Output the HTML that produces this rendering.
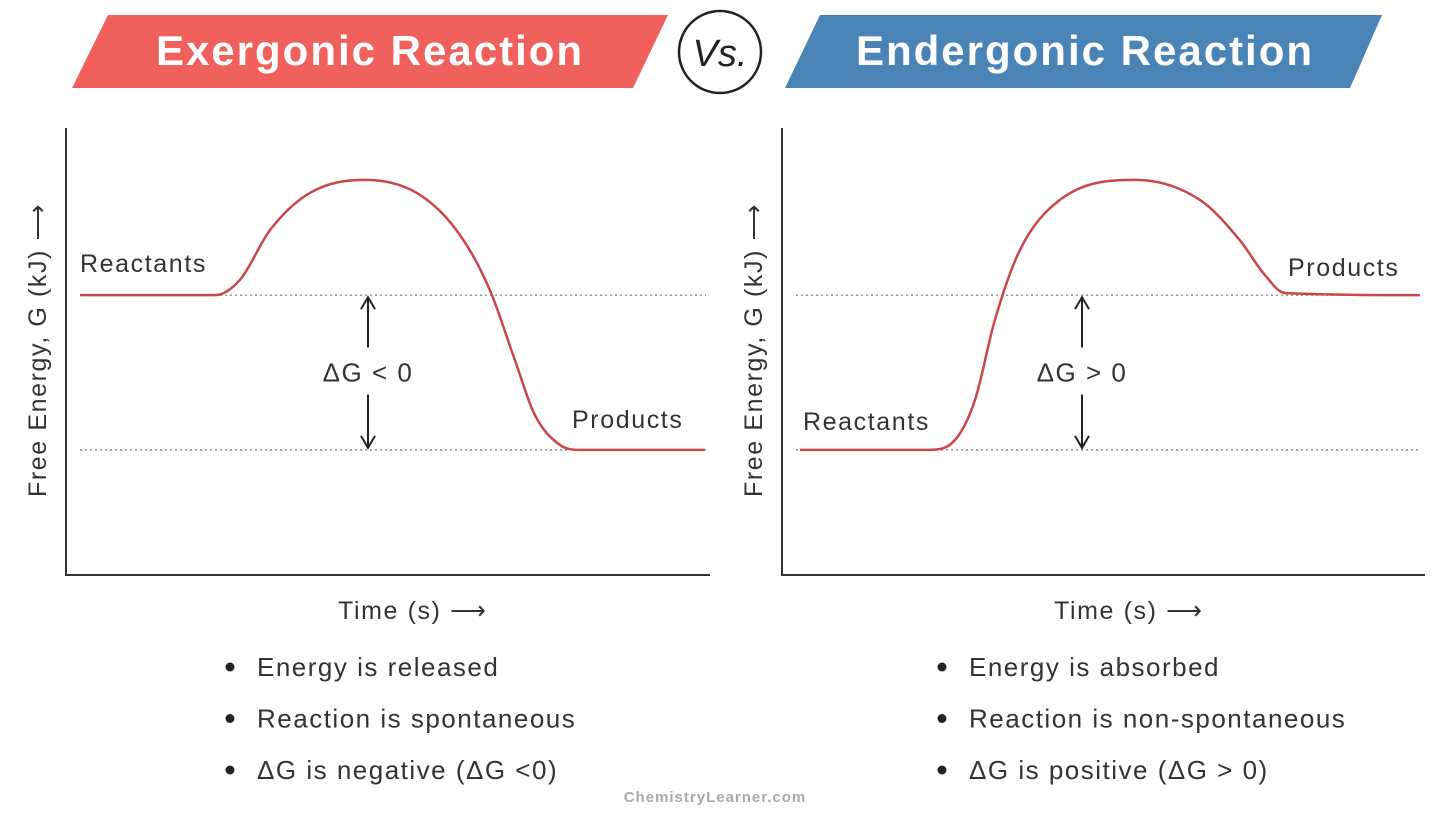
<!DOCTYPE html>
<html><head><meta charset="utf-8">
<style>
html,body{margin:0;padding:0;background:#fff;}
svg{display:block;font-family:"Liberation Sans",sans-serif;}
</style></head>
<body>
<svg id="chart" width="1440" height="823" viewBox="0 0 1440 823">
  <polygon points="108,15 668,15 633,88 72,88" fill="#f0605c"/>
  <text x="370" y="65" text-anchor="middle" font-size="42" font-weight="bold" letter-spacing="2" fill="#fff">Exergonic Reaction</text>
  <circle cx="720" cy="52" r="41" fill="#fff" stroke="#222" stroke-width="2.5"/>
  <text x="720" y="66" text-anchor="middle" font-size="38" font-style="italic" fill="#222">Vs.</text>
  <polygon points="820,15 1382,15 1350,88 785,88" fill="#4a83b6"/>
  <text x="1085" y="65" text-anchor="middle" font-size="42" font-weight="bold" letter-spacing="2" fill="#fff">Endergonic Reaction</text>
  <g id="left"></g>
  <g id="right"></g>
  <text x="715" y="802" text-anchor="middle" font-size="15" font-weight="bold" fill="#aaa" letter-spacing="1">ChemistryLearner.com</text>
</svg>
<script>
// Exergonic data (time %, energy %)
const exTime = [2.2, 23.1, 27, 31.7, 37.9, 46.4, 55, 61.2, 65.8, 69.7, 72.8, 76.7, 79.8, 99.2];
const exEnergy = [62.6, 62.6, 66, 77.2, 85.5, 88.4, 85, 76, 63.8, 48.1, 35.8, 29.1, 28, 28];
// Endergonic data
const enTime = [2.8, 22.9, 26.9, 30, 33.1, 37, 43.2, 54.9, 65, 71.2, 75.1, 78.2, 99.2];
const enEnergy = [28, 28, 30.2, 39.1, 57, 72.7, 83.9, 88.4, 83.9, 74.9, 67.1, 63.1, 62.6];
const exLevels = [62.6, 28];
const enLevels = [62.6, 28];
const exBullets = ["Energy is released", "Reaction is spontaneous", "ΔG is negative (ΔG <0)"];
const enBullets = ["Energy is absorbed", "Reaction is non-spontaneous", "ΔG is positive (ΔG > 0)"];

const NS = "http://www.w3.org/2000/svg";
function mk(parent, tag, attrs, text) {
  const e = document.createElementNS(NS, tag);
  for (const k in attrs) e.setAttribute(k, attrs[k]);
  if (text !== undefined) e.textContent = text;
  parent.appendChild(e);
  return e;
}
// monotone cubic (Fritsch-Carlson)
function smoothPath(pts) {
  const n = pts.length, dx = [], m = [], t = [];
  for (let i = 0; i < n - 1; i++) { dx.push(pts[i+1][0]-pts[i][0]); m.push((pts[i+1][1]-pts[i][1])/dx[i]); }
  t[0] = m[0]; t[n-1] = m[n-2];
  for (let i = 1; i < n - 1; i++) t[i] = (m[i-1]*m[i] <= 0) ? 0 : (m[i-1]+m[i])/2;
  for (let i = 0; i < n - 1; i++) {
    if (m[i] === 0) { t[i] = 0; t[i+1] = 0; continue; }
    const a = t[i]/m[i], b = t[i+1]/m[i], s = a*a + b*b;
    if (s > 9) { const k = 3/Math.sqrt(s); t[i] = k*a*m[i]; t[i+1] = k*b*m[i]; }
  }
  let d = "M" + pts[0][0] + "," + pts[0][1];
  for (let i = 0; i < n - 1; i++) {
    const h = dx[i] / 3;
    d += " C" + (pts[i][0]+h) + "," + (pts[i][1]+t[i]*h) + " " + (pts[i+1][0]-h) + "," + (pts[i+1][1]-t[i+1]*h) + " " + pts[i+1][0] + "," + pts[i+1][1];
  }
  return d;
}
function drawPanel(g, x0, x1, times, energies, levels, cfg) {
  const yTop = 128, yBot = 575;
  const sx = t => x0 + (x1 - x0) * t / 100;
  const sy = v => yBot - (yBot - yTop) * v / 100;
  const ax = mk(g, "path", {d: "M" + x0 + "," + yTop + " L" + x0 + "," + yBot + " L" + x1 + "," + yBot, fill: "none", stroke: "#333", "stroke-width": 2});
  
  
  levels.forEach((lv, i) => {
    const l = mk(g, "line", {x1: x0 + 14, x2: x1 - 4, y1: sy(lv), y2: sy(lv), stroke: "#777", "stroke-width": 1.2, "stroke-dasharray": "2,3"});
    
    
  });
  const pts = times.map((t, i) => [sx(t), sy(energies[i])]);
  const c = mk(g, "path", {d: smoothPath(pts), fill: "none", stroke: "#c9474b", "stroke-width": 2.5});
  
  
  const ya = sy(levels[0]), yb = sy(levels[1]), xm = cfg.arrowX, ym = (ya + yb) / 2;
  const ar = mk(g, "path", {d: "M" + xm + "," + (ya + 2) + " L" + xm + "," + (ym - 25) + " M" + (xm - 7) + "," + (ya + 14) + " L" + xm + "," + (ya + 2) + " L" + (xm + 7) + "," + (ya + 14) +
    " M" + xm + "," + (yb - 2) + " L" + xm + "," + (ym + 22) + " M" + (xm - 7) + "," + (yb - 14) + " L" + xm + "," + (yb - 2) + " L" + (xm + 7) + "," + (yb - 14), fill: "none", stroke: "#222", "stroke-width": 2});
  
  
  const dt = mk(g, "text", {x: xm, y: ym + 9, "text-anchor": "middle", "font-size": 26, "letter-spacing": 1.5, fill: "#333"}, cfg.dg);
  
  
  cfg.labels.forEach(lb => {
    const t = mk(g, "text", {x: lb[0], y: lb[1], "font-size": 25, "letter-spacing": 1.6, fill: "#333"}, lb[2]);
    
    
  });
  const yt = mk(g, "text", {x: 0, y: 0, transform: "translate(" + (x0 - 20) + ",350) rotate(-90)", "text-anchor": "middle", "font-size": 25, "letter-spacing": 1.6, fill: "#333"}, "Free Energy, G (kJ) ⟶");
  
  
  const xt = mk(g, "text", {x: x0 + 272, y: 619, "font-size": 25, "letter-spacing": 1.6, fill: "#333"}, "Time (s) ⟶");
  
  
  cfg.bullets.forEach((b, i) => {
    const y = 667 + i * 51.5;
    const dot = mk(g, "circle", {cx: cfg.bulletX, cy: y, r: 4.5, fill: "#222"});
    
    
    const t = mk(g, "text", {x: cfg.bulletX + 27, y: y + 9, "font-size": 26, "letter-spacing": 1.5, fill: "#333"}, b);
    
    
  });
}
drawPanel(document.getElementById("left"), 66, 710, exTime, exEnergy, exLevels,
  {arrowX: 368, dg: "ΔG < 0", bulletX: 230, bullets: exBullets,
   labels: [[80, 272, "Reactants", "reactants-label"], [572, 428, "Products", "products-label"]]});
drawPanel(document.getElementById("right"), 782, 1425, enTime, enEnergy, enLevels,
  {arrowX: 1082, dg: "ΔG > 0", bulletX: 942, bullets: enBullets,
   labels: [[803, 430, "Reactants", "reactants-label"], [1288, 276, "Products", "products-label"]]});
</script>
</body></html>
